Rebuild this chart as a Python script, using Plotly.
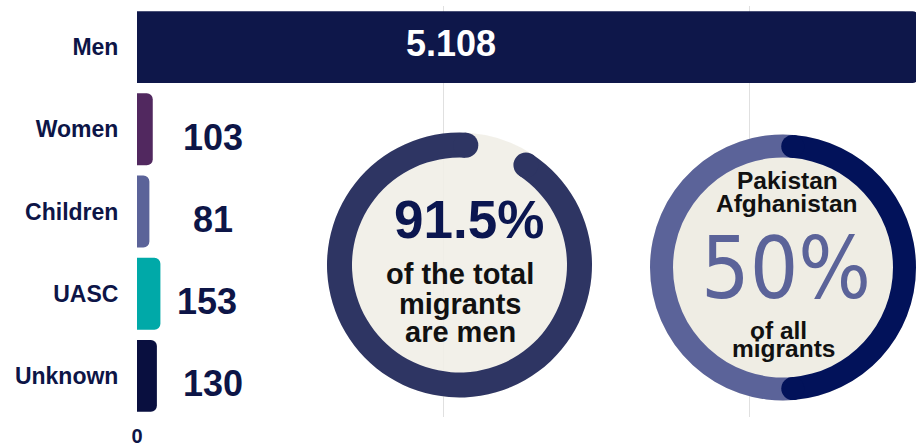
import math
import plotly.graph_objects as go

# ---- data ----
categories = ["Men", "Women", "Children", "UASC", "Unknown"]
counts = [5108, 103, 81, 153, 130]
bar_colors = ["#0e174a", "#51285f", "#5b6399", "#00a9a8", "#090f3f"]
x_tick_vals = [0, 2000, 4000]
x_tick_text = ["0", "", ""]

men_share = 91.5          # % of the total migrants who are men
pak_afg_share = 50        # % of all migrants from Pakistan / Afghanistan
men_share_lines = ["of the total", "migrants", "are men"]
pak_afg_lines_top = ["Pakistan", "Afghanistan"]
pak_afg_lines_bottom = ["of all", "migrants"]

# ---- layout geometry (pixels) ----
W, H = 916, 446
ML, MR, MT, MB = 137, 0, 6, 29
PW, PH = W - ML - MR, H - MT - MB


def px_x(x):
    return (x - ML) / PW


def px_y(y):
    return (H - MB - y) / PH


FONT = "Liberation Sans, Arial, sans-serif"
NAVY = "#0d1547"

fig = go.Figure()

fig.add_trace(go.Bar(
    x=counts, y=categories, orientation="h",
    marker=dict(color=bar_colors, line=dict(width=0), cornerradius=6),
    hoverinfo="skip",
))

# ---- donut 1 (men share) ----
d1_cx, d1_cy, d1_R, d1_th = 459.5, 265, 132.5, 25
d1_dom = dict(x=[px_x(d1_cx - d1_R), px_x(d1_cx + d1_R)],
              y=[px_y(d1_cy + d1_R), px_y(d1_cy - d1_R)])
fig.add_trace(go.Pie(values=[1], domain=d1_dom, sort=False, textinfo="none",
                     marker=dict(colors=["rgba(240,238,230,0.88)"], line=dict(width=0)),
                     hoverinfo="skip", showlegend=False))
d1_start = 3                                   # ring end near 12 o'clock
d1_gap = 360 * (1 - men_share / 100)
fig.add_trace(go.Pie(values=[men_share, 100 - men_share], domain=d1_dom, sort=False,
                     hole=(d1_R - d1_th) / d1_R, rotation=d1_start + d1_gap,
                     direction="clockwise", textinfo="none",
                     marker=dict(colors=["#2e3563", "rgba(0,0,0,0)"], line=dict(width=0)),
                     hoverinfo="skip", showlegend=False))

# ---- donut 2 (Pakistan / Afghanistan share) ----
d2_left, d2_cy = 650, 267.5
d2_R = min((W - d2_left) / 2, 137.5)
d2_cx = d2_left + d2_R
d2_th = 23
d2_dom = dict(x=[px_x(d2_left), px_x(d2_left + 2 * d2_R)],
              y=[px_y(d2_cy + d2_R), px_y(d2_cy - d2_R)])
fig.add_trace(go.Pie(values=[1], domain=d2_dom, sort=False, textinfo="none",
                     marker=dict(colors=["#efede4"], line=dict(width=0)),
                     hoverinfo="skip", showlegend=False))
cap_inset = 4.6  # degrees taken by each rounded end cap
arc2 = pak_afg_share - 2 * cap_inset / 3.6
fig.add_trace(go.Pie(values=[arc2, 100 - arc2], domain=d2_dom, sort=False,
                     hole=(d2_R - d2_th) / d2_R, rotation=cap_inset,
                     direction="clockwise", textinfo="none",
                     marker=dict(colors=["#02125a", "#5b6399"], line=dict(width=0)),
                     hoverinfo="skip", showlegend=False))

# ---- rounded end caps ----
shapes = []


def cap(cx, cy, R, th, ang, color):
    rc = R - th / 2
    a = math.radians(ang)
    x = cx + rc * math.sin(a)
    y = cy - rc * math.cos(a)
    r = th / 2
    shapes.append(dict(type="circle", xref="paper", yref="paper",
                       xsizemode="pixel", ysizemode="pixel",
                       xanchor=px_x(x), yanchor=px_y(y),
                       x0=-r, x1=r, y0=-r, y1=r,
                       fillcolor=color, line=dict(width=0), layer="above"))


cap(d1_cx, d1_cy, d1_R, d1_th, d1_start, "#2e3563")
cap(d1_cx, d1_cy, d1_R, d1_th, d1_start + d1_gap, "#2e3563")
cap(d2_cx, d2_cy, d2_R, d2_th, cap_inset, "#02125a")
cap(d2_cx, d2_cy, d2_R, d2_th, cap_inset + arc2 * 3.6, "#02125a")

# ---- annotations ----
ann = []


def text(x, y, s, size, color, family=FONT, weight="bold"):
    ann.append(dict(x=px_x(x), y=px_y(y), xref="paper", yref="paper",
                    text=s, showarrow=False, xanchor="center", yanchor="middle",
                    font=dict(family=family, size=size, color=color, weight=weight)))


# value labels on bars
ann.append(dict(x=px_x(451), y=categories[0], xref="paper", yref="y",
                text=f"{counts[0]:,}".replace(",", "."), showarrow=False,
                xanchor="center", yanchor="middle", yshift=4,
                font=dict(family=FONT, size=36, color="white", weight="bold")))
label_shift = [0, 0, -6, 0]
for cat, v, sh in zip(categories[1:], counts[1:], label_shift):
    ann.append(dict(x=px_x(213), y=cat, xref="paper", yref="y", text=str(v),
                    showarrow=False, xanchor="center", yanchor="middle",
                    xshift=sh, yshift=-8,
                    font=dict(family=FONT, size=36, color=NAVY, weight="bold")))

# donut 1 texts
text(469, 219.5, f"{men_share}%", 53, "#0b1650")
for line, y in zip(men_share_lines, [274, 303.5, 332]):
    text(460, y, line, 29, "#111111")

# donut 2 texts
for line, y in zip(pak_afg_lines_top, [180.5, 203.5]):
    text(787, y, line, 24.5, "#111111")
text(786, 268, f"{pak_afg_share}%", 85, "#5b6399",
     family="Liberation Sans Narrow, DejaVu Sans Condensed, Liberation Sans, sans-serif",
     weight="normal")
for line, x, y in zip(pak_afg_lines_bottom, [778, 783], [330.5, 348.5]):
    text(x, y, line, 24.5, "#111111")

fig.update_layout(
    width=W, height=H,
    margin=dict(l=ML, r=MR, t=MT, b=MB, pad=0),
    paper_bgcolor="white", plot_bgcolor="white",
    showlegend=False, bargap=0.125,
    shapes=shapes, annotations=ann,
    font=dict(family=FONT, color=NAVY),
    xaxis=dict(range=[0, PW / (306 / 2000)], tickvals=x_tick_vals, ticktext=x_tick_text,
               ticks="outside", ticklen=1, tickcolor="rgba(0,0,0,0)",
               tickfont=dict(size=20, color=NAVY, weight="bold", family=FONT),
               showgrid=True, gridcolor="#e0e0e0", gridwidth=1,
               zeroline=False, showline=False, automargin=False, fixedrange=True),
    yaxis=dict(type="category", categoryorder="array", categoryarray=categories,
               autorange="reversed", ticks="outside", ticklen=13,
               tickcolor="rgba(0,0,0,0)",
               tickfont=dict(size=23, color=NAVY, weight="bold", family=FONT),
               showgrid=False, zeroline=False, showline=False, automargin=False,
               fixedrange=True),
)

fig.write_html("out.html", config={"displayModeBar": False},
               post_script="document.body.style.margin='0';document.body.style.padding='0';")
